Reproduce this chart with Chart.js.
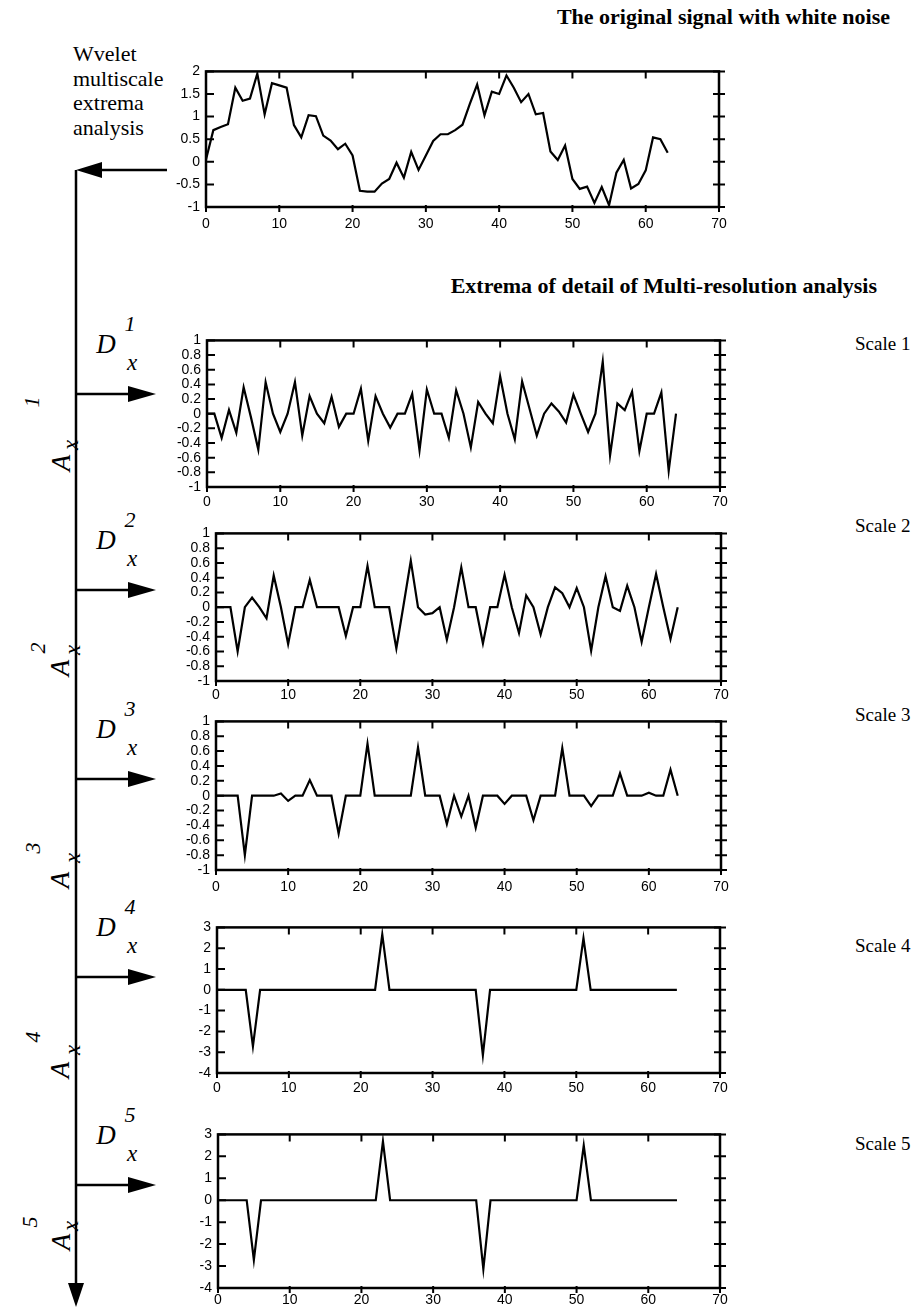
<!DOCTYPE html>
<html>
<head>
<meta charset="utf-8">
<script src="https://cdn.jsdelivr.net/npm/chart.js@4.4.1/dist/chart.umd.min.js"></script>
<style>
  html, body { margin: 0; padding: 0; background: #fff; }
  body { width: 924px; height: 1308px; position: relative; overflow: hidden;
         font-family: 'Liberation Serif', 'Times New Roman', serif; color: #000; }
  .txt { position: absolute; white-space: nowrap; line-height: 1; }
  .title { font-weight: bold; font-size: 22px; }
  .scale { font-size: 19px; transform: translateY(-50%); }
  .it { font-style: italic; }
  .ctr { transform: translate(-50%, -50%); }
  .rot { transform: translate(-50%, -50%) rotate(-90deg); }
  #intro { position: absolute; left: 73px; top: 42px; font-size: 22px; line-height: 24.5px; }
  svg { position: absolute; left: 0; top: 0; z-index: 5; }
</style>
</head>
<body>

<div class="txt title" style="right:34px; top:6px;">The original signal with white noise</div>
<div class="txt title" style="right:47px; top:275px;">Extrema of detail of Multi-resolution analysis</div>
<div id="intro">Wvelet<br>multiscale<br>extrema<br>analysis</div>

<div class="txt scale" style="left:855px; top:343px;">Scale 1</div>
<div class="txt scale" style="left:855px; top:525px;">Scale 2</div>
<div class="txt scale" style="left:855px; top:714px;">Scale 3</div>
<div class="txt scale" style="left:855px; top:945px;">Scale 4</div>
<div class="txt scale" style="left:855px; top:1143px;">Scale 5</div>

<svg id="arrows" width="924" height="1308"></svg>

<script>
// original noisy signal, samples 0..63
const signal = [0.05, 0.70, 0.77, 0.83, 1.64, 1.35, 1.40, 1.95, 1.05, 1.74,
  1.69, 1.64, 0.81, 0.54, 1.03, 1.01, 0.58, 0.47, 0.28, 0.40,
  0.14, -0.64, -0.66, -0.66, -0.48, -0.38, -0.02, -0.35, 0.22, -0.18,
  0.14, 0.46, 0.61, 0.61, 0.70, 0.82, 1.28, 1.71, 1.03, 1.55,
  1.50, 1.91, 1.64, 1.32, 1.50, 1.05, 1.08, 0.23, 0.04, 0.36,
  -0.38, -0.60, -0.55, -0.91, -0.56, -0.96, -0.24, 0.04, -0.59, -0.49,
  -0.19, 0.54, 0.50, 0.20];

// detail extrema, samples 0..64
const scale1 = [0, 0, -0.33, 0.05, -0.26, 0.36, -0.05, -0.49, 0.43, 0,
  -0.25, 0, 0.43, -0.30, 0.24, 0, -0.13, 0.23, -0.18, 0,
  0, 0.34, -0.37, 0.24, 0, -0.19, 0, 0, 0.27, -0.50,
  0.33, 0, 0, -0.33, 0.32, 0, -0.46, 0.16, 0, -0.13,
  0.51, 0, -0.35, 0.44, 0.07, -0.30, 0, 0.14, 0.03, -0.12,
  0.26, 0, -0.25, 0, 0.71, -0.57, 0.14, 0.05, 0.30, -0.51,
  0, 0, 0.29, -0.78, 0];

const scale2 = [0, 0, 0, -0.60, 0, 0.13, 0, -0.15, 0.43, 0,
  -0.50, 0, 0, 0.37, 0, 0, 0, 0, -0.39, 0,
  0, 0.56, 0, 0, 0, -0.56, 0.03, 0.63, 0, -0.10,
  -0.08, 0, -0.44, 0, 0.54, 0, 0, -0.49, 0, 0,
  0.44, 0, -0.35, 0.16, 0, -0.37, 0, 0.27, 0.19, 0,
  0.26, 0, -0.59, 0, 0.42, 0, -0.05, 0.29, 0, -0.47,
  0, 0.45, 0, -0.43, 0];

const scale3 = [0, 0, 0, 0, -0.80, 0, 0, 0, 0, 0.03,
  -0.07, 0, 0, 0.21, 0, 0, 0, -0.51, 0, 0,
  0, 0.70, 0, 0, 0, 0, 0, 0, 0.65, 0,
  0, 0, -0.38, 0, -0.28, 0, -0.43, 0, 0, 0,
  -0.11, 0, 0, 0, -0.33, 0, 0, 0, 0.64, 0,
  0, 0, -0.14, 0, 0, 0, 0.30, 0, 0, 0,
  0.04, 0, 0, 0.35, 0];

const scale4 = [0, 0, 0, 0, 0, -2.72, 0, 0, 0, 0,
  0, 0, 0, 0, 0, 0, 0, 0, 0, 0,
  0, 0, 0, 2.66, 0, 0, 0, 0, 0, 0,
  0, 0, 0, 0, 0, 0, 0, -3.14, 0, 0,
  0, 0, 0, 0, 0, 0, 0, 0, 0, 0,
  0, 2.48, 0, 0, 0, 0, 0, 0, 0, 0,
  0, 0, 0, 0, 0];

const scale5 = [0, 0, 0, 0, 0, -2.72, 0, 0, 0, 0,
  0, 0, 0, 0, 0, 0, 0, 0, 0, 0,
  0, 0, 0, 2.68, 0, 0, 0, 0, 0, 0,
  0, 0, 0, 0, 0, 0, 0, -3.14, 0, 0,
  0, 0, 0, 0, 0, 0, 0, 0, 0, 0,
  0, 2.50, 0, 0, 0, 0, 0, 0, 0, 0,
  0, 0, 0, 0, 0];

// tick labels
const xTicks = [0, 10, 20, 30, 40, 50, 60, 70];
const signalTicks = [-1, -0.5, 0, 0.5, 1, 1.5, 2];
const detailTicks = [-1, -0.8, -0.6, -0.4, -0.2, 0, 0.2, 0.4, 0.6, 0.8, 1];
const coarseTicks = [-4, -3, -2, -1, 0, 1, 2, 3];

// panel layout: plot box [left, top, right, bottom] in page pixels
const panels = [
  { values: signal, yTicks: signalTicks, box: [206, 67, 719, 207], xPad: 9 },
  { values: scale1, yTicks: detailTicks, box: [207, 336, 720, 487], xPad: 7 },
  { values: scale2, yTicks: detailTicks, box: [216, 529, 721, 681], xPad: 6 },
  { values: scale3, yTicks: detailTicks, box: [216, 717, 721, 870], xPad: 9 },
  { values: scale4, yTicks: coarseTicks, box: [217, 923, 720, 1073], xPad: 7 },
  { values: scale5, yTicks: coarseTicks, box: [218, 1130, 720, 1288], xPad: 4 }
];

Chart.defaults.font.family = "'Liberation Sans', Arial, sans-serif";
Chart.defaults.font.size = 14;
Chart.defaults.color = '#000';

// box frame with inside ticks like the original plotting package
const frameTicks = {
  id: 'frameTicks',
  afterDraw(chart) {
    const { ctx, chartArea: a, scales: { x, y } } = chart;
    ctx.save();
    ctx.strokeStyle = '#000';
    ctx.lineWidth = 2.5;
    ctx.strokeRect(a.left, a.top, a.right - a.left, a.bottom - a.top);
    ctx.lineWidth = 2;
    ctx.beginPath();
    y.ticks.forEach(t => {
      const py = y.getPixelForValue(t.value);
      ctx.moveTo(a.left, py); ctx.lineTo(a.left + 8, py);
      ctx.moveTo(a.right - 6, py); ctx.lineTo(a.right + 6, py);
    });
    x.ticks.forEach(t => {
      const px = x.getPixelForValue(t.value);
      ctx.moveTo(px, a.top); ctx.lineTo(px, a.top + 7);
      ctx.moveTo(px, a.bottom - 2); ctx.lineTo(px, a.bottom + 5);
    });
    ctx.stroke();
    ctx.restore();
  }
};

function makePanel(p) {
  const [L, T, R, B] = p.box;
  const yw = 50, pt = 10, pr = 22, xh = 30;
  const canvas = document.createElement('canvas');
  canvas.width = yw + (R - L) + pr;
  canvas.height = pt + (B - T) + xh;
  canvas.style.position = 'absolute';
  canvas.style.left = (L - yw) + 'px';
  canvas.style.top = (T - pt) + 'px';
  canvas.style.width = canvas.width + 'px';
  canvas.style.height = canvas.height + 'px';
  document.body.appendChild(canvas);

  return new Chart(canvas, {
    type: 'line',
    data: {
      datasets: [{
        data: p.values.map((v, i) => ({ x: i, y: v })),
        borderColor: '#000',
        borderWidth: 2.2,
        pointRadius: 0,
        tension: 0,
        fill: false
      }]
    },
    options: {
      responsive: false,
      animation: false,
      devicePixelRatio: 1,
      layout: { padding: { top: pt, right: pr, left: 0, bottom: 0 } },
      plugins: { legend: { display: false }, tooltip: { enabled: false } },
      scales: {
        x: {
          type: 'linear',
          min: xTicks[0],
          max: xTicks[xTicks.length - 1],
          grid: { display: false, drawTicks: false },
          border: { display: false },
          afterBuildTicks: s => { s.ticks = xTicks.map(v => ({ value: v })); },
          afterFit: s => { s.height = xh; },
          ticks: { autoSkip: false, maxRotation: 0, padding: p.xPad, callback: v => String(v) }
        },
        y: {
          min: p.yTicks[0],
          max: p.yTicks[p.yTicks.length - 1],
          grid: { display: false, drawTicks: false },
          border: { display: false },
          afterBuildTicks: s => { s.ticks = p.yTicks.map(v => ({ value: v })); },
          afterFit: s => { s.width = yw; },
          ticks: { autoSkip: false, padding: 6, callback: v => String(v) }
        }
      }
    },
    plugins: [frameTicks]
  });
}

panels.forEach(makePanel);

// flow diagram on the left: arrows and labels
const svg = document.getElementById('arrows');
const NS = 'http://www.w3.org/2000/svg';
function el(tag, attrs) {
  const e = document.createElementNS(NS, tag);
  Object.keys(attrs).forEach(k => e.setAttribute(k, attrs[k]));
  svg.appendChild(e);
  return e;
}
const spineX = 76;
el('line', { x1: spineX, y1: 170, x2: spineX, y2: 1288, stroke: '#000', 'stroke-width': 2.5 });
el('polygon', { points: `${spineX},1307 ${spineX - 8},1283 ${spineX + 8},1283`, fill: '#000' });
el('line', { x1: 167, y1: 170, x2: 98, y2: 170, stroke: '#000', 'stroke-width': 2.5 });
el('polygon', { points: `${spineX},170 102,162 102,178`, fill: '#000' });

const arrowY = [394, 590, 779, 977, 1185];
const aLabels = [
  { sup: [32, 402], a: [61, 463], x: [70, 445] },
  { sup: [38, 648], a: [60, 668], x: [72, 650] },
  { sup: [33, 848], a: [60, 880], x: [72, 858] },
  { sup: [33, 1037], a: [60, 1070], x: [72, 1050] },
  { sup: [30, 1222], a: [61, 1242], x: [70, 1226] }
];

function addText(txt, x, y, size, cls) {
  const d = document.createElement('div');
  d.className = 'txt it ' + cls;
  d.style.left = x + 'px';
  d.style.top = y + 'px';
  d.style.fontSize = size + 'px';
  d.textContent = txt;
  document.body.appendChild(d);
}

arrowY.forEach((y, i) => {
  el('line', { x1: spineX, y1: y, x2: 132, y2: y, stroke: '#000', 'stroke-width': 2.5 });
  el('polygon', { points: `156,${y} 128,${y - 8} 128,${y + 8}`, fill: '#000' });
  const n = String(i + 1);
  addText(n, 130, y - 70, 22, 'ctr');
  addText('D', 106, y - 50, 27, 'ctr');
  addText('x', 132, y - 32, 23, 'ctr');
  const a = aLabels[i];
  addText(n, a.sup[0], a.sup[1], 22, 'rot');
  addText('A', a.a[0], a.a[1], 27, 'rot');
  addText('x', a.x[0], a.x[1], 23, 'rot');
});
</script>
</body>
</html>
